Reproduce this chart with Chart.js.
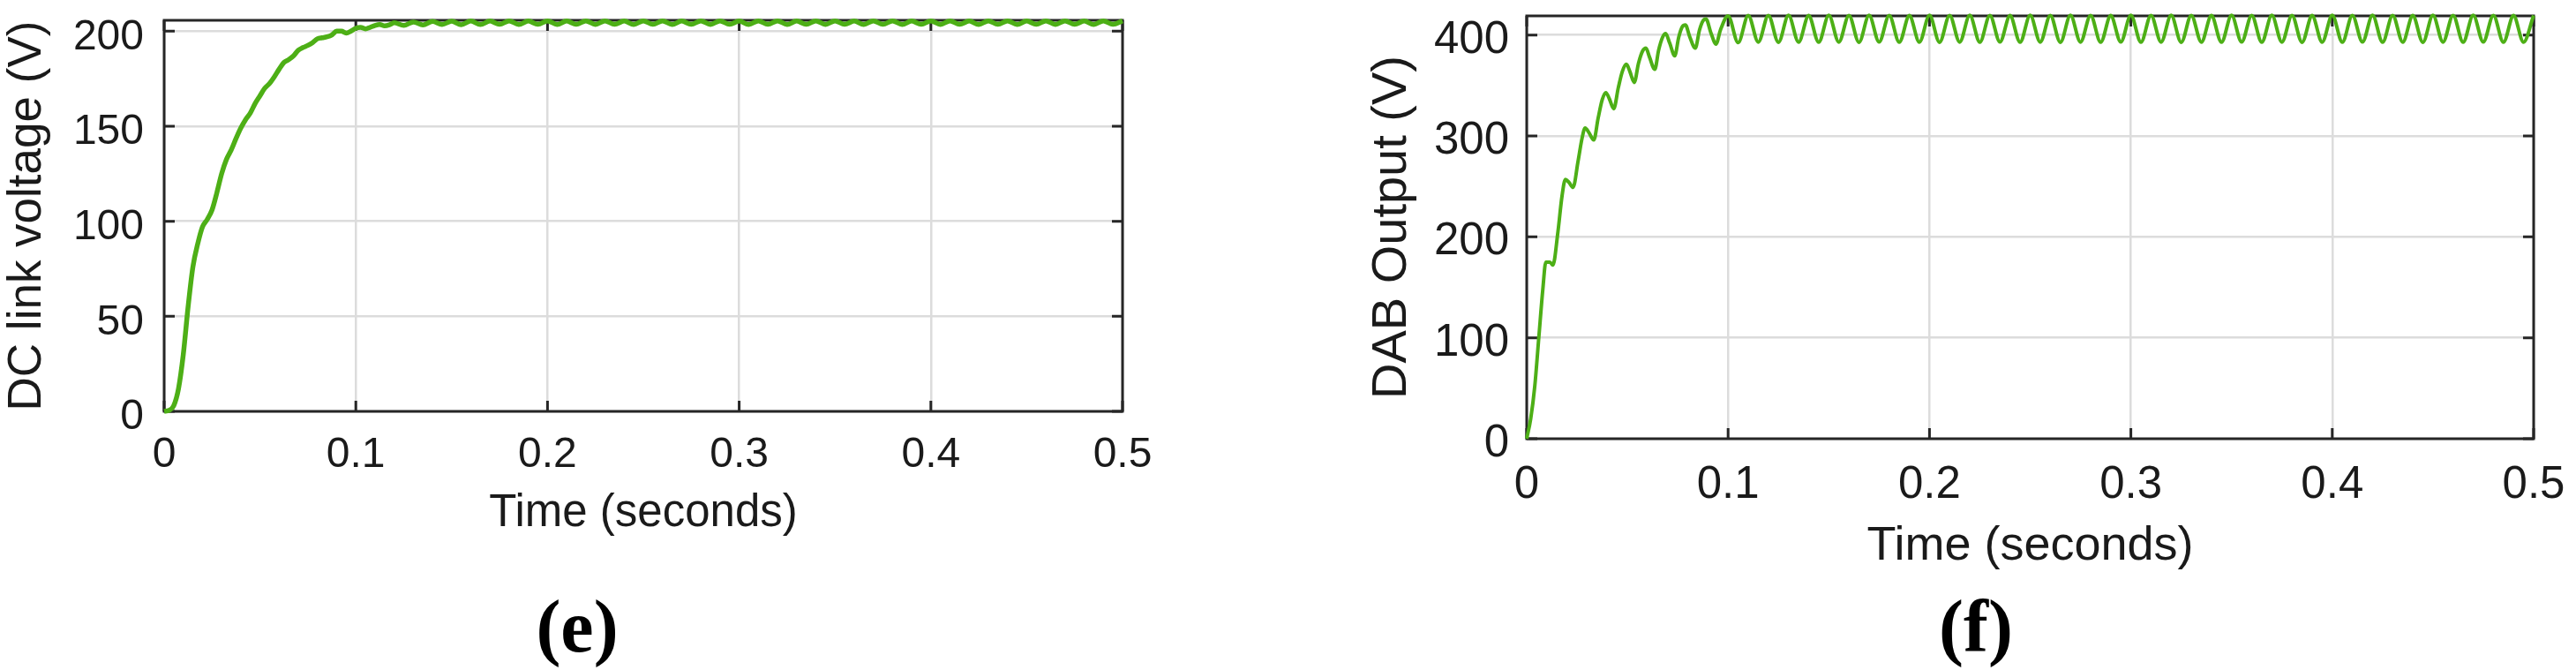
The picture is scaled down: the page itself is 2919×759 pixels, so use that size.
<!DOCTYPE html>
<html><head><meta charset="utf-8">
<script src="https://cdn.jsdelivr.net/npm/chart.js@4.4.1/dist/chart.umd.min.js"></script>
<style>
html,body{margin:0;padding:0;background:#fff;}
body{width:2919px;height:759px;position:relative;overflow:hidden;}
canvas{position:absolute;top:0;}
#cE{left:0;} #cF{left:1450px;}
.panel{position:absolute;width:200px;text-align:center;font-family:'Liberation Serif','Times New Roman',serif;font-weight:bold;font-size:84px;line-height:84px;color:#000;top:668px;}
#labE{left:554px;} #labF{left:2139px;}
</style></head><body>
<canvas id="cE" width="1450" height="759"></canvas>
<canvas id="cF" width="1469" height="759"></canvas>
<div class="panel" id="labE">(e)</div>
<div class="panel" id="labF">(f)</div>
<script>
// ---------- data ----------
const xTickValues = [0, 0.1, 0.2, 0.3, 0.4, 0.5];
const xTickLabels = ['0', '0.1', '0.2', '0.3', '0.4', '0.5'];
const dcTickValues = [0, 50, 100, 150, 200];
const dcTickLabels = ['0', '50', '100', '150', '200'];
const dabTickValues = [0, 100, 200, 300, 400];
const dabTickLabels = ['0', '100', '200', '300', '400'];

// (e) DC link voltage – start-up transient
const dcTransTime = [0, 0.0025, 0.005, 0.0075, 0.01, 0.0125, 0.015, 0.0175, 0.02, 0.0225,
  0.025, 0.0275, 0.03, 0.0325, 0.035, 0.0375, 0.04, 0.0425, 0.045, 0.0475,
  0.05, 0.0525, 0.055, 0.0575, 0.06, 0.0625, 0.065, 0.0675, 0.07, 0.0725,
  0.075, 0.0775, 0.08, 0.0825, 0.085, 0.0875, 0.09, 0.0925, 0.095, 0.0975,
  0.1, 0.1025, 0.105, 0.1075, 0.11, 0.1125, 0.115, 0.1175];
const dcTransV = [0, 0.5, 3, 12, 30, 55, 76, 88, 97, 101,
  106, 115, 125, 132.5, 137.5, 143.5, 149, 153.5, 157, 162,
  166, 170, 172.5, 176, 180, 183.5, 185, 187, 190, 191.4,
  192.5, 194, 196, 196.5, 197, 198, 200, 200, 199, 200,
  201.5, 202, 201.2, 202, 203, 203.5, 202.8, 203.3];
// (e) steady state ripple, sampled every 5 ms from 0.12 s to 0.5 s
const dcSteadyStart = 0.12, dcSteadyStep = 0.005;
const dcSteadyV = [
  204.4, 203.0, 204.8, 203.3, 205.1, 203.5, 205.2, 203.4, 205.3, 203.5,
  205.3, 203.6, 205.4, 203.5, 205.3, 203.6, 205.4, 203.5, 205.3, 203.6,
  205.4, 203.5, 205.4, 203.6, 205.3, 203.5, 205.4, 203.6, 205.4, 203.5,
  205.3, 203.6, 205.4, 203.5, 205.4, 203.6, 205.3, 203.5, 205.4, 203.6,
  205.4, 203.5, 205.3, 203.6, 205.4, 203.5, 205.4, 203.6, 205.3, 203.5,
  205.4, 203.6, 205.4, 203.5, 205.3, 203.6, 205.4, 203.5, 205.4, 203.6,
  205.3, 203.5, 205.4, 203.6, 205.4, 203.5, 205.3, 203.6, 205.4, 203.5,
  205.4, 203.6, 205.3, 203.5, 205.4, 203.6, 205.4];

// (f) DAB output – start-up transient
const dabTransTime = [0, 0.002, 0.004, 0.006, 0.008, 0.0095, 0.0115, 0.013, 0.0155, 0.0175,
  0.0192, 0.021, 0.023, 0.0255, 0.0275, 0.029, 0.031, 0.0333, 0.0355, 0.0375,
  0.0393, 0.041, 0.0432, 0.0455, 0.0475, 0.0495, 0.0512, 0.0534, 0.0555, 0.0575,
  0.0592, 0.061, 0.0636, 0.0655, 0.0675, 0.069, 0.071, 0.0735, 0.0755, 0.0772,
  0.0788, 0.081, 0.0837, 0.0858, 0.0875, 0.089, 0.0915, 0.094, 0.0962];
const dabTransV = [0, 20, 52, 100, 148, 175, 175, 172, 205, 240,
  257, 254, 249, 275, 298, 308, 303, 296, 318, 336,
  343, 337, 327, 348, 364, 371, 364, 353, 372, 384,
  387, 378, 366, 385, 398, 401.5, 392, 379.5, 398, 408,
  410, 398, 387, 405, 414, 416, 402, 391, 405];
// (f) steady state ripple, sampled every 5 ms from 0.1 s to 0.5 s
const dabSteadyStart = 0.1, dabSteadyStep = 0.005;
const dabSteadyV = [
  419.0, 392.5, 419.5, 393.0, 419.5, 392.8, 419.6, 393.0, 419.4, 392.9,
  419.6, 393.0, 419.5, 392.8, 419.6, 393.1, 419.5, 392.9, 419.4, 393.0,
  419.6, 392.8, 419.5, 393.0, 419.6, 392.9, 419.5, 393.1, 419.4, 392.9,
  419.6, 393.0, 419.5, 392.8, 419.6, 393.0, 419.5, 392.9, 419.4, 393.1,
  419.6, 392.9, 419.5, 393.0, 419.6, 392.8, 419.5, 393.0, 419.4, 392.9,
  419.6, 393.1, 419.5, 392.9, 419.6, 393.0, 419.5, 392.8, 419.4, 393.0,
  419.6, 392.9, 419.5, 393.1, 419.6, 392.9, 419.5, 393.0, 419.4, 392.8,
  419.6, 393.0, 419.5, 392.9, 419.6, 393.1, 419.5, 392.9, 419.4, 393.0,
  419.5];

// ---------- helpers ----------
const LINE_COLOR = '#4DAF16';
const GRID_COLOR = '#dcdcdc';
const BOX_COLOR = '#262626';
const TEXT_COLOR = '#1a1a1a';
const SANS = "'Liberation Sans', Arial, Helvetica, sans-serif";

function pairPoints(times, values) {
  return times.map((t, i) => ({x: t, y: values[i]}));
}
function sampledPoints(start, step, values) {
  return values.map((v, i) => ({x: +(start + i * step).toFixed(4), y: v}));
}

const boxPlugin = {
  id: 'matlabBox',
  beforeDatasetsDraw(chart, args, opts) {
    const {ctx, chartArea: a, scales: {x, y}} = chart;
    const L = opts.tickLen;
    ctx.save();
    ctx.strokeStyle = BOX_COLOR;
    ctx.lineWidth = opts.width;
    ctx.beginPath();
    x.ticks.forEach(t => {
      const px = x.getPixelForValue(t.value);
      ctx.moveTo(px, a.bottom); ctx.lineTo(px, a.bottom - L);
      ctx.moveTo(px, a.top); ctx.lineTo(px, a.top + L);
    });
    y.ticks.forEach(t => {
      const py = y.getPixelForValue(t.value);
      ctx.moveTo(a.left, py); ctx.lineTo(a.left + L, py);
      ctx.moveTo(a.right, py); ctx.lineTo(a.right - L, py);
    });
    ctx.stroke();
    ctx.strokeRect(a.left, a.top, a.right - a.left, a.bottom - a.top);
    ctx.restore();
  }
};

function makeChart(canvasId, cfg) {
  const setTicks = (vals) => (scale) => { scale.ticks = vals.map(v => ({value: v})); };
  return new Chart(document.getElementById(canvasId), {
    type: 'line',
    data: {datasets: [{
      data: cfg.points,
      borderColor: LINE_COLOR,
      borderWidth: cfg.lineWidth,
      pointRadius: 0,
      cubicInterpolationMode: 'monotone',
      fill: false,
      clip: false
    }]},
    plugins: [boxPlugin],
    options: {
      responsive: false,
      animation: false,
      devicePixelRatio: 1,
      parsing: false,
      layout: {padding: cfg.padding},
      plugins: {legend: {display: false}, tooltip: {enabled: false}, matlabBox: {width: 3, tickLen: 12}},
      scales: {
        x: {
          type: 'linear', min: 0, max: 0.5,
          afterBuildTicks: setTicks(xTickValues),
          afterFit: (s) => { s.height = cfg.xHeight; s.paddingLeft = 0; s.paddingRight = 0; },
          grid: {color: GRID_COLOR, lineWidth: 2.5, drawTicks: false},
          border: {display: false},
          ticks: {
            autoSkip: false, maxRotation: 0, padding: cfg.xTickPad, color: TEXT_COLOR,
            font: {family: SANS, size: cfg.tickSize},
            callback: (v, i) => xTickLabels[i]
          },
          title: {display: true, text: 'Time (seconds)', color: TEXT_COLOR,
            font: {family: SANS, size: cfg.titleSize}, padding: {top: 0, bottom: 0}}
        },
        y: {
          type: 'linear', min: 0, max: cfg.yMax,
          afterBuildTicks: setTicks(cfg.yTickValues),
          afterFit: (s) => { s.width = cfg.yWidth; s.paddingTop = 0; s.paddingBottom = 0; },
          grid: {color: GRID_COLOR, lineWidth: 2.5, drawTicks: false},
          border: {display: false},
          ticks: {
            padding: cfg.yTickPad, labelOffset: cfg.yLabelOffset, color: TEXT_COLOR,
            font: {family: SANS, size: cfg.tickSize},
            callback: (v, i) => cfg.yTickLabels[i]
          },
          title: {display: true, text: cfg.yTitle, color: TEXT_COLOR,
            font: {family: SANS, size: cfg.yTitleSize}, padding: {top: cfg.yTitlePad, bottom: 0}}
        }
      }
    }
  });
}

makeChart('cE', {
  points: pairPoints(dcTransTime, dcTransV).concat(sampledPoints(dcSteadyStart, dcSteadyStep, dcSteadyV)),
  lineWidth: 5.5,
  padding: {left: 0, right: 178, top: 23, bottom: 146},
  xHeight: 147, yWidth: 186,
  xTickPad: 21, yTickPad: 23, yLabelOffset: 7,
  tickSize: 48, titleSize: 51, yTitleSize: 53, yTitlePad: 0,
  yMax: 205.7, yTickValues: dcTickValues, yTickLabels: dcTickLabels,
  yTitle: 'DC link voltage (V)'
});

makeChart('cF', {
  points: pairPoints(dabTransTime, dabTransV).concat(sampledPoints(dabSteadyStart, dabSteadyStep, dabSteadyV)),
  lineWidth: 4,
  padding: {left: 0, right: 48, top: 18, bottom: 107},
  xHeight: 155, yWidth: 280,
  xTickPad: 22, yTickPad: 20, yLabelOffset: 6,
  tickSize: 51, titleSize: 54, yTitleSize: 56, yTitlePad: 94,
  yMax: 419, yTickValues: dabTickValues, yTickLabels: dabTickLabels,
  yTitle: 'DAB Output (V)'
});
</script>
</body></html>
